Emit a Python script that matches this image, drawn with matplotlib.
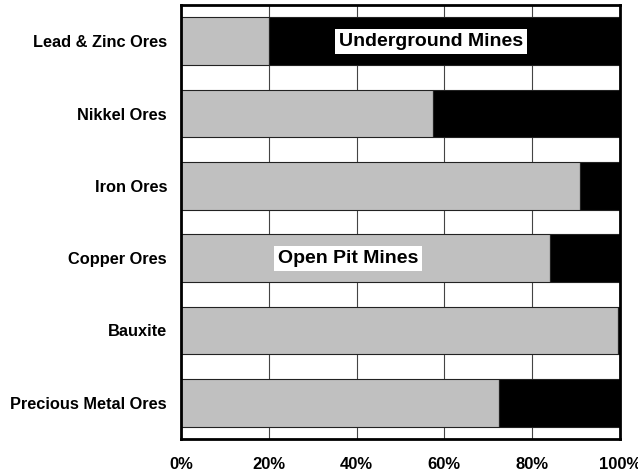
import numpy as np
import matplotlib
matplotlib.use("Agg")
import matplotlib.pyplot as plt
from matplotlib.ticker import PercentFormatter

plt.rcParams['font.family'] = ['Liberation Sans', 'DejaVu Sans']
plt.rcParams['font.weight'] = 'bold'

# data (top to bottom)
categories = ["Lead & Zinc Ores", "Nikkel Ores", "Iron Ores",
              "Copper Ores", "Bauxite", "Precious Metal Ores"]
open_pit = [20, 57.3, 91, 84, 99.6, 72.5]
underground = [100 - v for v in open_pit]
x_ticks = [0, 20, 40, 60, 80, 100]

fig = plt.figure(figsize=(6.38, 4.75), dpi=100)
ax = fig.add_axes([181 / 638, 36 / 475, 439 / 638, 434 / 475])

y = np.arange(len(categories))
ax.barh(y, open_pit, height=0.66, color="#c0c0c0", edgecolor="#222222", linewidth=0.8, zorder=2)
ax.barh(y, underground, left=open_pit, height=0.66, color="black", edgecolor="#222222", linewidth=0.8, zorder=2)

ax.set_xlim(0, 100)
ax.set_ylim(len(categories) - 0.5, -0.5)
ax.set_yticks(y)
ax.set_yticklabels(categories, fontsize=11.8, fontweight='bold')
ax.set_xticks(x_ticks)
ax.xaxis.set_major_formatter(PercentFormatter(decimals=0))
ax.tick_params(axis='x', length=0, pad=13, labelsize=12)
ax.tick_params(axis='y', length=0, pad=10)
ax.grid(axis='x', color="#444444", linewidth=0.8, zorder=1)
ax.set_axisbelow(True)
for s in ax.spines.values():
    s.set_linewidth(2)
    s.set_color("black")

box = dict(boxstyle="square,pad=0.2", facecolor="white", edgecolor="none")
ax.text(57, 0, "Underground Mines", fontsize=14, fontweight='bold',
        ha='center', va='center', bbox=box, zorder=3)
ax.text(38, 3, "Open Pit Mines", fontsize=14, fontweight='bold',
        ha='center', va='center', bbox=box, zorder=3)

fig.savefig("out.png", dpi=100)
